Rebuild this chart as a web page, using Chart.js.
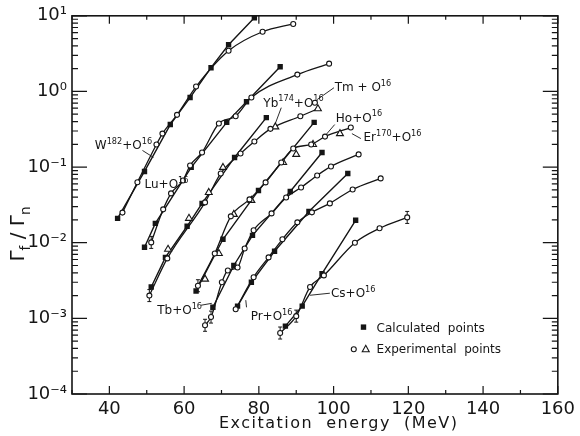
<!DOCTYPE html>
<html>
<head>
<meta charset="utf-8">
<script src="https://cdn.jsdelivr.net/npm/chart.js@4"></script>
<style>
  html, body { margin: 0; padding: 0; background: #fff; }
  #wrap { width: 580px; height: 436px; position: relative; }
</style>
</head>
<body>
<div id="wrap"><canvas id="fissionChart"></canvas></div>
<script>
// Γf/Γn against excitation energy, O16 induced reactions
// calculated points (squares) and experimental points (circles, triangles)

const wCalcE = [42.2, 49.4, 56.3, 61.6, 67.2, 71.9, 78.8];
const wCalcY = [0.021, 0.0875, 0.365, 0.83, 2.06, 4.14, 9.4];
const wExpE = [43.5, 47.5, 52.6, 54.2, 58.1, 63.2, 71.9, 81.0, 89.2];
const wExpY = [0.025, 0.063, 0.199, 0.277, 0.49, 1.16, 3.45, 6.15, 7.8];

const luCalcE = [49.4, 52.3, 61.9, 71.4, 76.7, 85.7];
const luCalcY = [0.0087, 0.018, 0.099, 0.39, 0.73, 2.12];
const luExpE = [51.2, 54.4, 56.5, 59.7, 61.6, 64.8, 69.3, 73.8, 78.0, 90.3, 98.8];
const luExpY = [0.0101, 0.0276, 0.0449, 0.0666, 0.105, 0.156, 0.376, 0.47, 0.83, 1.67, 2.33];

const ybCalcE = [51.2, 55.0, 60.8, 64.8, 73.5, 82.0];
const ybCalcY = [0.0026, 0.0064, 0.0165, 0.0331, 0.134, 0.45];
const ybExpE = [50.7, 55.5, 65.6, 69.8, 75.1, 78.8, 83.1, 91.1];
const ybExpY = [0.002, 0.0062, 0.0341, 0.0824, 0.151, 0.218, 0.32, 0.47];
const ybTriE = [55.7, 61.3, 66.6, 70.4, 84.4, 95.8];
const ybTriY = [0.0082, 0.021, 0.0462, 0.099, 0.34, 0.59];
const tmExpE = [95.0];
const tmExpY = [0.71];

const hoCalcE = [63.2, 70.4, 79.9, 94.8];
const hoCalcY = [0.0023, 0.0111, 0.0491, 0.39];
const hoExpE = [63.7, 68.2, 72.5, 77.5, 81.8, 86.0, 89.2, 94.0, 97.7, 104.6];
const hoExpY = [0.0027, 0.0072, 0.0223, 0.0374, 0.0627, 0.115, 0.176, 0.199, 0.253, 0.333];
const erTriE = [65.6, 69.3, 73.3, 78.0, 86.5, 90.0, 94.5, 101.7];
const erTriY = [0.0033, 0.0072, 0.0237, 0.0363, 0.115, 0.147, 0.199, 0.277];

const tbCalcE = [67.7, 73.3, 78.3, 88.4, 96.9];
const tbCalcY = [0.0014, 0.005, 0.0125, 0.0476, 0.156];
const tbExpE = [65.6, 67.2, 70.1, 71.7, 74.3, 76.2, 78.6, 83.4, 87.3, 91.3, 95.6, 99.3, 106.7];
const tbExpY = [0.00081, 0.00104, 0.003, 0.0043, 0.0047, 0.0084, 0.0146, 0.0244, 0.0397, 0.0538, 0.0775, 0.102, 0.147];

const prCalcE = [74.3, 78.0, 84.2, 93.4, 103.8];
const prCalcY = [0.00145, 0.003, 0.0077, 0.0259, 0.0824];
const prExpE = [73.8, 78.6, 82.6, 86.3, 90.3, 94.2, 99.0, 105.1, 112.6];
const prExpY = [0.00132, 0.0035, 0.0064, 0.0111, 0.0186, 0.0252, 0.0331, 0.0506, 0.0708];

const csCalcE = [87.1, 91.6, 96.9, 105.9];
const csCalcY = [0.00079, 0.00145, 0.0039, 0.0198];
const csExpE = [85.7, 90.0, 93.7, 97.4, 105.7, 112.3, 119.7];
const csExpY = [0.00064, 0.00107, 0.0026, 0.0037, 0.0100, 0.0155, 0.0216];

// experimental points that carry a small error bar
const errE = [51.2, 50.7, 63.7, 65.6, 67.2, 85.7, 90.0, 119.7];
const errY = [0.0101, 0.002, 0.0027, 0.00081, 0.00104, 0.00064, 0.00107, 0.0216];

// axis ticks
const xTickVals = [40, 60, 80, 100, 120, 140, 160];
const yTickVals = [1e-4, 1e-3, 1e-2, 1e-1, 1, 10];
const yTickLabels = ["10⁻⁴", "10⁻³", "10⁻²", "10⁻¹", "10⁰", "10¹"];

// labels written on the plot (data coordinates, text baseline)
const notes = [
  { text: "W^{182}+O^{16}", x: 36.1, y: 0.171 },
  { text: "Lu+O^{16}", x: 49.4, y: 0.0522 },
  { text: "Yb^{174}+O^{16}", x: 81.2, y: 0.63 },
  { text: "Tm + O^{16}", x: 100.3, y: 1.0 },
  { text: "Ho+O^{16}", x: 100.6, y: 0.40 },
  { text: "Er^{170}+O^{16}", x: 108.0, y: 0.218 },
  { text: "Tb+O^{16}", x: 52.8, y: 0.00113 },
  { text: "Pr+O^{16}", x: 77.8, y: 0.00095 },
  { text: "Cs+O^{16}", x: 99.3, y: 0.0019 },
];
const leaders = [
  [[48.85, 0.166], [51.8, 0.134]],
  [[86.0, 0.61], [84.4, 0.376]],
  [[100.1, 1.12], [95.6, 0.78]],
  [[100.3, 0.365], [98.0, 0.269]],
  [[107.3, 0.238], [104.9, 0.277]],
  [[64.5, 0.00149], [67.4, 0.00158]],
  [[76.7, 0.0014], [76.5, 0.00174]],
  [[99.0, 0.00215], [93.7, 0.00202]],
];

const ink = "#151515";
const FONT = "'DejaVu Sans', sans-serif";

function pts(e, v) {
  return e.map((x, i) => ({ x: x, y: v[i] }));
}
function calcSet(e, v) {
  return {
    data: pts(e, v), showLine: true, borderColor: ink, borderWidth: 1.4,
    pointStyle: "rect", pointRadius: 3.8, pointBackgroundColor: ink,
    pointBorderColor: ink, pointBorderWidth: 0, order: 2,
  };
}
function curveSet(e, v) {
  return {
    data: pts(e, v), showLine: true, borderColor: ink, borderWidth: 1.3,
    pointRadius: 0, cubicInterpolationMode: "monotone", order: 3,
  };
}
function circleSet(e, v) {
  return {
    data: pts(e, v), showLine: false, pointStyle: "circle", pointRadius: 2.5,
    pointBackgroundColor: "#fff", pointBorderColor: ink, pointBorderWidth: 1.1, order: 1,
  };
}
function triSet(e, v) {
  return {
    data: pts(e, v), showLine: false, pointStyle: "triangle", pointRadius: 4,
    pointBackgroundColor: "#fff", pointBorderColor: ink, pointBorderWidth: 1.1, order: 1,
  };
}
// the Yb curve runs through its circles and ends on the last triangle
function merged(e1, y1, e2, y2) {
  const all = pts(e1, y1).concat(pts(e2, y2)).sort((a, b) => a.x - b.x);
  return [all.map((p) => p.x), all.map((p) => p.y)];
}
const ybAll = merged(ybExpE, ybExpY, ybTriE.slice(-1), ybTriY.slice(-1));

const datasets = [
  curveSet(wExpE, wExpY), calcSet(wCalcE, wCalcY), circleSet(wExpE, wExpY),
  curveSet(luExpE, luExpY), calcSet(luCalcE, luCalcY), circleSet(luExpE, luExpY),
  curveSet(ybAll[0], ybAll[1]), calcSet(ybCalcE, ybCalcY), circleSet(ybExpE, ybExpY), triSet(ybTriE, ybTriY),
  circleSet(tmExpE, tmExpY),
  curveSet(hoExpE, hoExpY), calcSet(hoCalcE, hoCalcY), circleSet(hoExpE, hoExpY), triSet(erTriE, erTriY),
  curveSet(tbExpE, tbExpY), calcSet(tbCalcE, tbCalcY), circleSet(tbExpE, tbExpY),
  curveSet(prExpE, prExpY), calcSet(prCalcE, prCalcY), circleSet(prExpE, prExpY),
  curveSet(csExpE, csExpY), calcSet(csCalcE, csCalcY), circleSet(csExpE, csExpY),
];

// text with ^{..} superscripts and _{..} subscripts
function richText(ctx, str, x, y, size, align) {
  const parts = [];
  const re = /([\^_])\{([^}]*)\}|([^\^_]+)/g;
  let m;
  while ((m = re.exec(str))) {
    if (m[3]) parts.push({ t: m[3], d: 0 });
    else parts.push({ t: m[2], d: m[1] === "^" ? -1 : 1 });
  }
  let w = 0;
  parts.forEach((p) => {
    ctx.font = (p.d ? size * 0.68 : size) + "px " + FONT;
    p.w = ctx.measureText(p.t).width;
    w += p.w;
  });
  let cx = align === "center" ? x - w / 2 : align === "right" ? x - w : x;
  ctx.textAlign = "left";
  ctx.textBaseline = "alphabetic";
  parts.forEach((p) => {
    ctx.font = (p.d ? size * 0.68 : size) + "px " + FONT;
    const dy = p.d === -1 ? -size * 0.45 : p.d === 1 ? size * 0.28 : 0;
    ctx.fillText(p.t, cx, y + dy);
    cx += p.w;
  });
}

const decor = {
  id: "decor",
  afterDraw(chart) {
    const { ctx, chartArea: a, scales } = chart;
    const xs = scales.x, ys = scales.y;
    const X = (v) => xs.getPixelForValue(v);
    const Y = (v) => ys.getPixelForValue(v);
    ctx.save();
    ctx.strokeStyle = ink;
    ctx.fillStyle = ink;

    // frame
    ctx.lineWidth = 1.6;
    ctx.strokeRect(a.left, a.top, a.right - a.left, a.bottom - a.top);

    // inward ticks
    ctx.lineWidth = 1.2;
    ctx.beginPath();
    for (let v = 30; v <= 160; v += 10) {
      const px = X(v);
      const len = v % 20 === 0 ? 8 : 4;
      ctx.moveTo(px, a.bottom); ctx.lineTo(px, a.bottom - len);
      ctx.moveTo(px, a.top); ctx.lineTo(px, a.top + len);
    }
    for (let d = -4; d <= 1; d++) {
      for (let k = 1; k <= 9; k++) {
        const v = k * Math.pow(10, d);
        if (v > 10.0001) break;
        const py = Y(v);
        const len = k === 1 ? 15 : 6;
        ctx.moveTo(a.left, py); ctx.lineTo(a.left + len, py);
        ctx.moveTo(a.right, py); ctx.lineTo(a.right - len, py);
      }
    }
    ctx.stroke();

    // error bars
    ctx.lineWidth = 1;
    ctx.beginPath();
    errE.forEach((e, i) => {
      const px = X(e), py = Y(errY[i]);
      ctx.moveTo(px, py - 6); ctx.lineTo(px, py - 2.5);
      ctx.moveTo(px, py + 2.5); ctx.lineTo(px, py + 6);
      ctx.moveTo(px - 2, py - 6); ctx.lineTo(px + 2, py - 6);
      ctx.moveTo(px - 2, py + 6); ctx.lineTo(px + 2, py + 6);
    });
    ctx.stroke();

    // reaction labels and leaders
    notes.forEach((n) => richText(ctx, n.text, X(n.x), Y(n.y), 12, "left"));
    ctx.lineWidth = 0.9;
    leaders.forEach((l) => {
      ctx.beginPath();
      ctx.moveTo(X(l[0][0]), Y(l[0][1]));
      ctx.lineTo(X(l[1][0]), Y(l[1][1]));
      ctx.stroke();
    });

    // key
    const sx = X(108.0), sy = Y(0.000766);
    ctx.fillRect(sx - 2.7, sy - 2.7, 5.4, 5.4);
    ctx.lineWidth = 1.1;
    ctx.beginPath();
    ctx.arc(X(105.4), Y(0.00039), 2.5, 0, Math.PI * 2);
    ctx.stroke();
    const tx = X(108.6), ty = Y(0.00039);
    ctx.beginPath();
    ctx.moveTo(tx, ty - 4); ctx.lineTo(tx + 3.5, ty + 2.5); ctx.lineTo(tx - 3.5, ty + 2.5);
    ctx.closePath();
    ctx.stroke();
    ctx.font = "12px " + FONT;
    ctx.textAlign = "left";
    ctx.textBaseline = "alphabetic";
    ctx.fillText("Calculated  points", X(111.5), Y(0.00066));
    ctx.fillText("Experimental  points", X(111.5), Y(0.00035));

    // axis titles
    const title = "Excitation  energy  (MeV)";
    ctx.font = "16px " + FONT;
    const tw = ctx.measureText(title).width;
    if ("letterSpacing" in ctx) ctx.letterSpacing = ((238 - tw) / (title.length - 1)).toFixed(2) + "px";
    ctx.fillText(title, 219, 428);
    if ("letterSpacing" in ctx) ctx.letterSpacing = "0px";

    ctx.translate(24, 234);
    ctx.rotate(-Math.PI / 2);
    richText(ctx, "Γ_{f} / Γ_{n}", 0, 0, 20, "center");
    ctx.restore();
  },
};

const config = {
  type: "scatter",
  data: { datasets: datasets },
  options: {
    responsive: true,
    maintainAspectRatio: false,
    animation: false,
    devicePixelRatio: 1,
    layout: { padding: { top: 15, right: 18, left: 0, bottom: 0 } },
    plugins: { legend: { display: false }, tooltip: { enabled: false } },
    scales: {
      x: {
        type: "linear",
        min: 30,
        max: 160,
        afterBuildTicks: (s) => { s.ticks = xTickVals.map((v) => ({ value: v })); },
        afterFit: (s) => { s.height = 42; },
        grid: { display: false, drawTicks: false },
        border: { display: false },
        ticks: { color: ink, font: { family: FONT, size: 18 }, padding: 5, autoSkip: false, maxRotation: 0 },
      },
      y: {
        type: "logarithmic",
        min: 1e-4,
        max: 10,
        afterBuildTicks: (s) => { s.ticks = yTickVals.map((v) => ({ value: v })); },
        afterFit: (s) => { s.width = 72; },
        grid: { display: false, drawTicks: false },
        border: { display: false },
        ticks: {
          color: ink,
          font: { family: FONT, size: 18 },
          padding: 5,
          autoSkip: false,
          callback: (v) => yTickLabels[yTickVals.indexOf(v)],
        },
      },
    },
  },
  plugins: [decor],
};

new Chart(document.getElementById("fissionChart"), config);
</script>
</body>
</html>
